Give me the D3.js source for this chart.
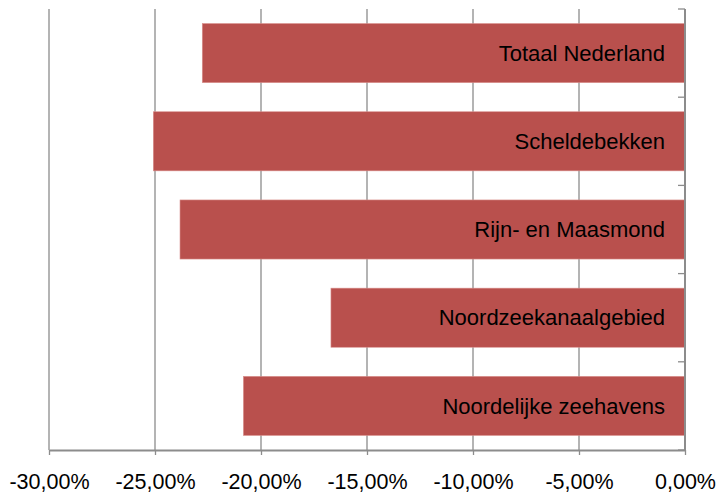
<!DOCTYPE html>
<html>
<head>
<meta charset="utf-8">
<script src="https://cdn.jsdelivr.net/npm/d3@7"></script>
<style>
  body { margin: 0; background: #fff; }
  svg { display: block; font-family: "Liberation Sans", Arial, sans-serif; }
</style>
</head>
<body>
<svg id="chart" width="717" height="493"></svg>
<script>
// data
const categories = ["Totaal Nederland", "Scheldebekken", "Rijn- en Maasmond", "Noordzeekanaalgebied", "Noordelijke zeehavens"];
const values = [-22.77, -25.08, -23.82, -16.70, -20.83];
const xTicks = [-30, -25, -20, -15, -10, -5, 0];

const margin = {top: 9, right: 32, bottom: 43, left: 49};
const width = 717 - margin.left - margin.right;
const height = 493 - margin.top - margin.bottom;

const svg = d3.select("#chart")
  .append("g")
  .attr("transform", "translate(" + margin.left + "," + margin.top + ")");

const x = d3.scaleLinear().domain([-30, 0]).range([0, width]);
const y = d3.scaleBand().domain(categories).range([0, height]).paddingInner(0.33).paddingOuter(0.165);

// comma decimals, plain hyphen for minus
const fmt = d => (d < 0 ? "-" : "") + Math.abs(d).toFixed(2).replace(".", ",") + "%";

// vertical gridlines
svg.append("g")
  .selectAll("line")
  .data(xTicks.slice(0, -1))
  .join("line")
  .attr("x1", d => x(d)).attr("x2", d => x(d))
  .attr("y1", 0).attr("y2", height)
  .attr("stroke", "#8c8c8c")
  .attr("stroke-width", 1.3);

// bars
svg.append("g")
  .selectAll("rect")
  .data(values)
  .join("rect")
  .attr("x", d => x(d))
  .attr("y", (d, i) => y(categories[i]))
  .attr("width", d => x(0) - x(d))
  .attr("height", y.bandwidth())
  .attr("fill", "#b9504d")
  .attr("stroke", "#d9908e")
  .attr("stroke-width", 0.6);

// labels inside the bars
svg.append("g")
  .selectAll("text")
  .data(categories)
  .join("text")
  .attr("x", x(0) - 20)
  .attr("y", d => y(d) + y.bandwidth() / 2)
  .attr("dy", "0.35em")
  .attr("text-anchor", "end")
  .attr("font-size", 22)
  .attr("fill", "#000")
  .text(d => d);

// x axis
const xAxis = svg.append("g")
  .attr("transform", "translate(0," + height + ")")
  .call(d3.axisBottom(x).tickValues(xTicks).tickSize(5).tickSizeOuter(0).tickFormat(fmt));
xAxis.attr("font-family", null).attr("font-size", null);
xAxis.select(".domain").attr("stroke", "#8c8c8c").attr("stroke-width", 2);
xAxis.selectAll(".tick line").attr("stroke", "#8c8c8c").attr("stroke-width", 1.3);
xAxis.selectAll(".tick text")
  .attr("font-size", 21.5)
  .attr("fill", "#000")
  .attr("y", 24);

// category axis on the right (at 0)
const boundaries = d3.range(categories.length + 1).map(i => i * height / categories.length);
const yAxis = svg.append("g").attr("transform", "translate(" + x(0) + ",0)");
yAxis.append("line")
  .attr("y1", 0).attr("y2", height)
  .attr("stroke", "#8c8c8c").attr("stroke-width", 2);
yAxis.selectAll(".cat-tick")
  .data(boundaries)
  .join("line")
  .attr("class", "cat-tick")
  .attr("x1", -7).attr("x2", 0)
  .attr("y1", d => d).attr("y2", d => d)
  .attr("stroke", "#8c8c8c").attr("stroke-width", 1.3);
</script>
</body>
</html>
